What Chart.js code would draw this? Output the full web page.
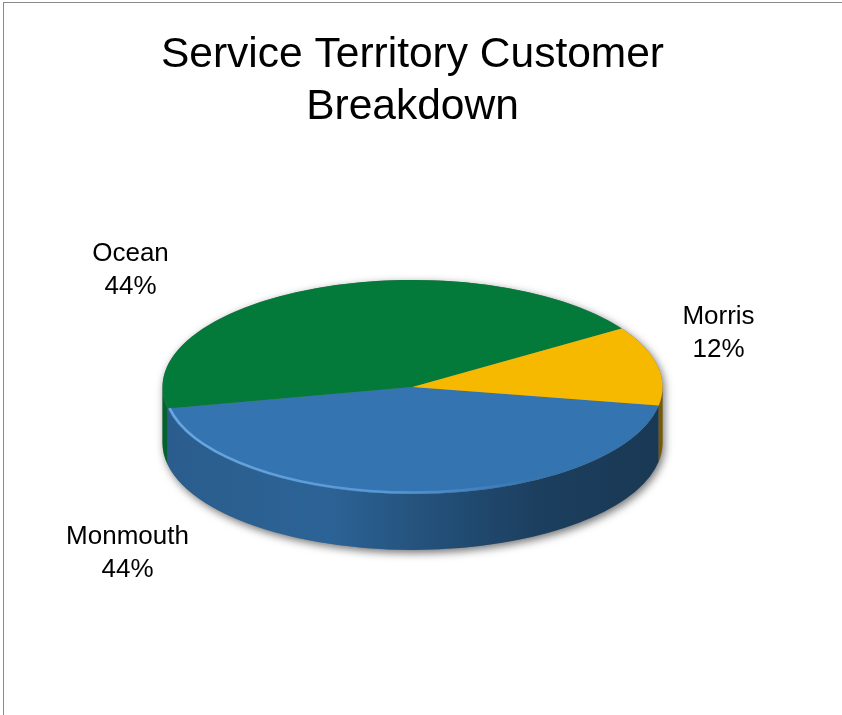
<!DOCTYPE html>
<html>
<head>
<meta charset="utf-8">
<script src="https://cdn.jsdelivr.net/npm/chart.js@4.4.0/dist/chart.umd.min.js"></script>
<style>
  body { margin: 0; background: #fff; }
  #wrap { position: relative; width: 842px; height: 715px; overflow: hidden; }
  #frame { position: absolute; left: 3px; top: 2px; right: -2px; bottom: -2px;
           border-top: 1px solid #8a8a8a; border-left: 1px solid #8a8a8a; pointer-events: none; }
  canvas { position: absolute; left: 0; top: 0; }
</style>
</head>
<body>
<div id="wrap">
  <canvas id="pieChart" width="842" height="715"></canvas>
  <div id="frame"></div>
</div>
<script>
const counties = ['Monmouth', 'Ocean', 'Morris'];
const shares = [44, 44, 12];
const sliceColors = ['#3474b0', '#047a3a', '#f7b900'];
// label spot for each county, relative to the pie centre (baseline of the first line)
const labelSpots = [[-285, 157], [-282, -126], [306, -63]];

const tilt = 0.428;   // squash of the top face (ry / rx)
const depth = 56;     // height of the pie wall

function shade(hex, f) {
  const n = parseInt(hex.slice(1), 16);
  const r = Math.round(((n >> 16) & 255) * f);
  const g = Math.round(((n >> 8) & 255) * f);
  const b = Math.round((n & 255) * f);
  return 'rgb(' + r + ',' + g + ',' + b + ')';
}

// fake 3D: shadow + side walls first, then squash the arcs the controller draws
const pie3d = {
  id: 'pie3d',
  beforeDatasetsDraw(chart) {
    const ctx = chart.ctx;
    const arcs = chart.getDatasetMeta(0).data;
    const cx = arcs[0].x, cy = arcs[0].y;
    const rx = arcs[0].outerRadius, ry = rx * tilt;

    ctx.save();
    ctx.shadowColor = 'rgba(0,0,0,0.55)';
    ctx.shadowBlur = 9;
    ctx.shadowOffsetX = 2;
    ctx.shadowOffsetY = 3;
    ctx.beginPath();
    ctx.ellipse(cx, cy, rx, ry, 0, Math.PI, 2 * Math.PI);
    ctx.ellipse(cx, cy + depth, rx, ry, 0, 0, Math.PI);
    ctx.closePath();
    ctx.fillStyle = '#777';
    ctx.fill();
    ctx.restore();

    arcs.forEach((arc, i) => {
      const base = sliceColors[i];
      for (let k = -1; k <= 1; k++) {
        const a = Math.max(arc.startAngle + k * 2 * Math.PI, 0);
        const b = Math.min(arc.endAngle + k * 2 * Math.PI, Math.PI);
        if (b <= a) continue;
        const grad = ctx.createLinearGradient(cx - rx, 0, cx + rx, 0);
        grad.addColorStop(0, shade(base, 0.8));
        grad.addColorStop(0.33, shade(base, 0.85));
        grad.addColorStop(0.55, shade(base, 0.68));
        grad.addColorStop(0.75, shade(base, 0.54));
        grad.addColorStop(1, shade(base, 0.48));
        ctx.beginPath();
        ctx.ellipse(cx, cy, rx, ry, 0, a, b);
        ctx.ellipse(cx, cy + depth, rx, ry, 0, b, a, true);
        ctx.closePath();
        ctx.fillStyle = grad;
        ctx.fill();
      }
    });

    ctx.save();
    ctx.translate(0, cy * (1 - tilt));
    ctx.scale(1, tilt);
  },
  afterDatasetsDraw(chart) {
    const ctx = chart.ctx;
    ctx.restore();

    const arcs = chart.getDatasetMeta(0).data;
    const cx = arcs[0].x, cy = arcs[0].y;
    const rx = arcs[0].outerRadius, ry = rx * tilt;

    // light rim along the front edge of the top face
    const front = arcs[0];
    const rim = ctx.createLinearGradient(cx - rx, 0, cx + rx, 0);
    rim.addColorStop(0, 'rgba(110,175,235,0.9)');
    rim.addColorStop(0.45, 'rgba(110,175,235,0.6)');
    rim.addColorStop(0.75, 'rgba(110,175,235,0)');
    ctx.save();
    ctx.beginPath();
    ctx.ellipse(cx, cy, rx - 2, ry - 1.5, 0, Math.max(front.startAngle, 0), Math.min(front.endAngle, Math.PI));
    ctx.strokeStyle = rim;
    ctx.lineWidth = 2.5;
    ctx.stroke();
    ctx.restore();

    ctx.save();
    ctx.font = '26px "Liberation Sans", Arial, sans-serif';
    ctx.textAlign = 'center';
    ctx.textBaseline = 'alphabetic';
    ctx.fillStyle = '#000';
    counties.forEach((name, i) => {
      const [dx, dy] = labelSpots[i];
      ctx.fillText(name, cx + dx, cy + dy);
      ctx.fillText(shares[i] + '%', cx + dx, cy + dy + 33);
    });
    ctx.restore();
  }
};

new Chart(document.getElementById('pieChart'), {
  type: 'pie',
  data: {
    labels: counties,
    datasets: [{
      data: shares,
      backgroundColor: sliceColors,
      borderWidth: 0,
      radius: 250,
      clip: false
    }]
  },
  options: {
    responsive: false,
    animation: false,
    devicePixelRatio: 1,
    rotation: 100,
    layout: { padding: { left: 0, right: 17, top: 0, bottom: 75 } },
    plugins: {
      legend: { display: false },
      tooltip: { enabled: false },
      title: {
        display: true,
        text: ['Service Territory Customer', 'Breakdown'],
        color: '#000',
        font: { family: '"Liberation Sans", Arial, sans-serif', size: 42.5, weight: 'normal', lineHeight: 1.235 },
        padding: { top: 29, bottom: 0 }
      }
    }
  },
  plugins: [pie3d]
});
</script>
</body>
</html>
